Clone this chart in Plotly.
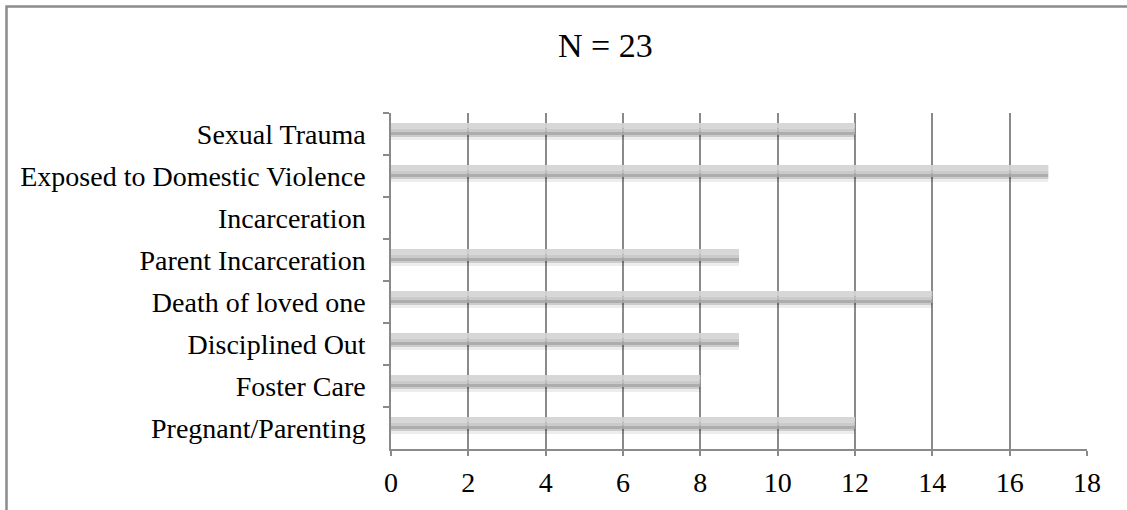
import plotly.graph_objects as go

categories = ["Sexual Trauma", "Exposed to Domestic Violence", "Incarceration",
              "Parent Incarceration", "Death of loved one", "Disciplined Out",
              "Foster Care", "Pregnant/Parenting"]
values = [12, 17, 0, 9, 14, 9, 8, 12]
x_ticks = [0, 2, 4, 6, 8, 10, 12, 14, 16, 18]
title_text = "N = 23"

FONT = "Liberation Serif"

# bands that build a soft shaded bar with a drop shadow (offset, width, color)
bands = [
    (0.024, 0.05, "rgba(0,0,0,0.20)"),
    (0.074, 0.07, "rgba(0,0,0,0.07)"),
    (-0.262, 0.13, "rgba(212,212,212,0.92)"),
    (-0.132, 0.08, "rgba(198,198,198,0.92)"),
    (-0.052, 0.076, "rgba(166,166,166,0.92)"),
]

fig = go.Figure()
for off, w, col in bands:
    fig.add_trace(go.Bar(
        x=values, y=categories, orientation="h",
        offset=off, width=w,
        marker=dict(color=col, line=dict(width=0)),
        hoverinfo="skip", showlegend=False,
    ))

W, H = 1127, 510
L, R, T, B = 391, 40, 113, 61
pw, ph = W - L - R, H - T - B

fig.update_layout(
    width=W, height=H, autosize=False,
    margin=dict(l=L, r=R, t=T, b=B, pad=0),
    paper_bgcolor="white", plot_bgcolor="white",
    barmode="overlay",
    font=dict(family=FONT, size=28, color="#000000"),
    xaxis=dict(
        range=[0, 18], tickvals=x_ticks, ticktext=[str(v) for v in x_ticks],
        showgrid=True, gridcolor="#8a8a8a", gridwidth=1.5,
        showline=True, linecolor="#8a8a8a", linewidth=1.5,
        ticks="outside", ticklen=5, tickcolor="#8a8a8a", tickwidth=1.5,
        ticklabelstandoff=3,
        zeroline=False, fixedrange=True,
        tickfont=dict(family=FONT, size=28, color="#000000"),
    ),
    yaxis=dict(
        type="category", categoryorder="array", categoryarray=categories,
        autorange="reversed",
        showgrid=False,
        showline=True, linecolor="#8a8a8a", linewidth=1.5,
        ticks="outside", ticklen=6, tickcolor="#8a8a8a", tickwidth=1.5,
        tickson="boundaries", ticklabelstandoff=18,
        zeroline=False, fixedrange=True,
        tickfont=dict(family=FONT, size=28, color="#000000"),
    ),
    shapes=[dict(
        type="rect", xref="paper", yref="paper",
        x0=(6.5 - L) / pw, x1=1.2, y0=-0.5, y1=1 + (T - 6.5) / ph,
        line=dict(color="#8c8c8c", width=2.5), fillcolor="rgba(0,0,0,0)",
        layer="below",
    )],
    annotations=[dict(
        text=title_text, xref="paper", yref="paper",
        x=(605 - L) / pw, y=1 + (T - 45) / ph,
        xanchor="center", yanchor="middle", showarrow=False,
        font=dict(family=FONT, size=34, color="#000000"),
    )],
)

fig.write_html("out.html", config={"displayModeBar": False},
               post_script="document.body.style.margin='0px';")
